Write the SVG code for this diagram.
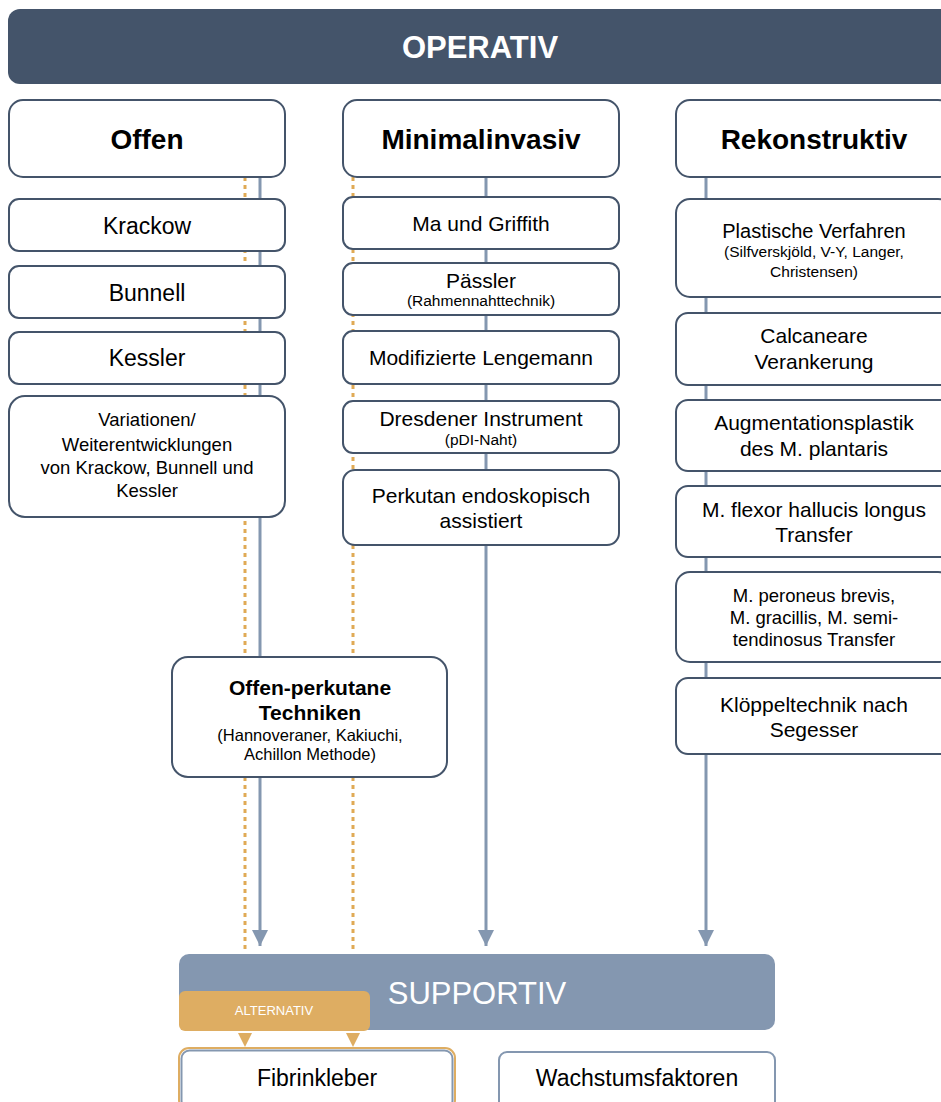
<svg xmlns="http://www.w3.org/2000/svg" width="941" height="1102" viewBox="0 0 941 1102">
<style>
.box{fill:#fff;stroke:#44546a;stroke-width:2}
.t{font-family:"Liberation Sans",Arial,sans-serif;fill:#000;text-anchor:middle}
.b{font-weight:bold}
.w{fill:#fff}
.blue{stroke:#8497b0;stroke-width:3;fill:none}
.dot{stroke:#e0aa55;stroke-width:3;stroke-dasharray:4 4;fill:none}
</style>
<defs>
<marker id="ah" viewBox="0 0 16 16" refX="16" refY="8" markerWidth="16" markerHeight="16" markerUnits="userSpaceOnUse" orient="auto">
<path d="M0,0 L16,8 L0,16 Z" fill="#8497b0"/>
</marker>
</defs>
<rect width="941" height="1102" fill="#fff"/>
<g id="connectors">
<line class="dot" x1="245" y1="177" x2="245" y2="951"/>
<line class="dot" x1="353" y1="177" x2="353" y2="951"/>
<line class="blue" x1="260" y1="177" x2="260" y2="946" marker-end="url(#ah)"/>
<line class="blue" x1="486" y1="177" x2="486" y2="946" marker-end="url(#ah)"/>
<line class="blue" x1="706" y1="177" x2="706" y2="946" marker-end="url(#ah)"/>
<path d="M238,1033 L252,1033 L245,1047 Z" fill="#dead62"/>
<path d="M346,1033 L360,1033 L353,1047 Z" fill="#dead62"/>
</g>
<g id="operativ">
<rect x="8" y="9" width="960" height="75" rx="12" fill="#44546a"/>
<text class="t b w" x="480" y="58" font-size="31">OPERATIV</text>
</g>
<g id="offen">
<rect class="box" x="9" y="100" width="276" height="77" rx="14"/>
<text class="t b" x="147" y="149" font-size="28">Offen</text>
</g>
<g id="krackow">
<rect class="box" x="9" y="199" width="276" height="52" rx="10"/>
<text class="t" x="147" y="234" font-size="23">Krackow</text>
</g>
<g id="bunnell">
<rect class="box" x="9" y="266" width="276" height="52" rx="10"/>
<text class="t" x="147" y="301" font-size="23">Bunnell</text>
</g>
<g id="kessler">
<rect class="box" x="9" y="332" width="276" height="52" rx="10"/>
<text class="t" x="147" y="366" font-size="23">Kessler</text>
</g>
<g id="variationen">
<rect class="box" x="9" y="396" width="276" height="121" rx="16"/>
<text class="t" x="147" y="426" font-size="18.5">Variationen/</text>
<text class="t" x="147" y="451" font-size="18.5">Weiterentwicklungen</text>
<text class="t" x="147" y="474" font-size="18.5">von Krackow, Bunnell und</text>
<text class="t" x="147" y="497" font-size="18.5">Kessler</text>
</g>
<g id="minimalinvasiv">
<rect class="box" x="343" y="100" width="276" height="77" rx="14"/>
<text class="t b" x="481" y="149" font-size="28">Minimalinvasiv</text>
</g>
<g id="ma">
<rect class="box" x="343" y="197" width="276" height="52" rx="10"/>
<text class="t" x="481" y="231" font-size="21">Ma und Griffith</text>
</g>
<g id="paessler">
<rect class="box" x="343" y="263" width="276" height="52" rx="10"/>
<text class="t" x="481" y="288" font-size="21">Pässler</text>
<text class="t" x="481" y="306" font-size="15.5">(Rahmennahttechnik)</text>
</g>
<g id="lengemann">
<rect class="box" x="343" y="331" width="276" height="53" rx="10"/>
<text class="t" x="481" y="365" font-size="21">Modifizierte Lengemann</text>
</g>
<g id="dresdener">
<rect class="box" x="343" y="401" width="276" height="52" rx="10"/>
<text class="t" x="481" y="426" font-size="21">Dresdener Instrument</text>
<text class="t" x="481" y="445" font-size="15.5">(pDI-Naht)</text>
</g>
<g id="perkutan">
<rect class="box" x="343" y="470" width="276" height="75" rx="12"/>
<text class="t" x="481" y="503" font-size="21">Perkutan endoskopisch</text>
<text class="t" x="481" y="528" font-size="21">assistiert</text>
</g>
<g id="rekonstruktiv">
<rect class="box" x="676" y="100" width="276" height="77" rx="14"/>
<text class="t b" x="814" y="149" font-size="28">Rekonstruktiv</text>
</g>
<g id="plastische">
<rect class="box" x="676" y="199" width="276" height="98" rx="14"/>
<text class="t" x="814" y="238" font-size="20">Plastische Verfahren</text>
<text class="t" x="814" y="257" font-size="15.5">(Silfverskjöld, V-Y, Langer,</text>
<text class="t" x="814" y="277" font-size="15.5">Christensen)</text>
</g>
<g id="calcaneare">
<rect class="box" x="676" y="313" width="276" height="72" rx="12"/>
<text class="t" x="814" y="343" font-size="21">Calcaneare</text>
<text class="t" x="814" y="369" font-size="21">Verankerung</text>
</g>
<g id="augmentation">
<rect class="box" x="676" y="400" width="276" height="71" rx="12"/>
<text class="t" x="814" y="430" font-size="21">Augmentationsplastik</text>
<text class="t" x="814" y="456" font-size="21">des M. plantaris</text>
</g>
<g id="flexor">
<rect class="box" x="676" y="486" width="276" height="71" rx="12"/>
<text class="t" x="814" y="517" font-size="21">M. flexor hallucis longus</text>
<text class="t" x="814" y="542" font-size="21">Transfer</text>
</g>
<g id="peroneus">
<rect class="box" x="676" y="572" width="276" height="90" rx="14"/>
<text class="t" x="814" y="602" font-size="18.5">M. peroneus brevis,</text>
<text class="t" x="814" y="624" font-size="18.5">M. gracillis, M. semi-</text>
<text class="t" x="814" y="646" font-size="18.5">tendinosus Transfer</text>
</g>
<g id="kloeppel">
<rect class="box" x="676" y="678" width="276" height="76" rx="12"/>
<text class="t" x="814" y="712" font-size="21">Klöppeltechnik nach</text>
<text class="t" x="814" y="737" font-size="21">Segesser</text>
</g>
<g id="offenperkutan">
<rect class="box" x="172" y="657" width="275" height="120" rx="16"/>
<text class="t b" x="310" y="695" font-size="21">Offen-perkutane</text>
<text class="t b" x="310" y="720" font-size="21">Techniken</text>
<text class="t" x="310" y="741" font-size="16.5">(Hannoveraner, Kakiuchi,</text>
<text class="t" x="310" y="760" font-size="16.5">Achillon Methode)</text>
</g>
<g id="supportiv">
<rect x="179" y="954" width="596" height="76" rx="10" fill="#8497b0"/>
<text class="t w" x="477" y="1004" font-size="31">SUPPORTIV</text>
</g>
<g id="alternativ">
<rect x="179" y="991" width="191" height="40" rx="6" fill="#dead62"/>
<text class="t w" x="274" y="1015" font-size="13">ALTERNATIV</text>
</g>
<g id="fibrinkleber">
<rect x="179" y="1048" width="276" height="62" rx="10" fill="#fff" stroke="#dead62" stroke-width="2"/>
<rect x="181.5" y="1050.5" width="271" height="58" rx="8" fill="none" stroke="#8497b0" stroke-width="2"/>
<text class="t" x="317" y="1086" font-size="23">Fibrinkleber</text>
</g>
<g id="wachstumsfaktoren">
<rect x="499" y="1052" width="276" height="60" rx="8" fill="#fff" stroke="#8497b0" stroke-width="2"/>
<text class="t" x="637" y="1086" font-size="23">Wachstumsfaktoren</text>
</g>
</svg>
